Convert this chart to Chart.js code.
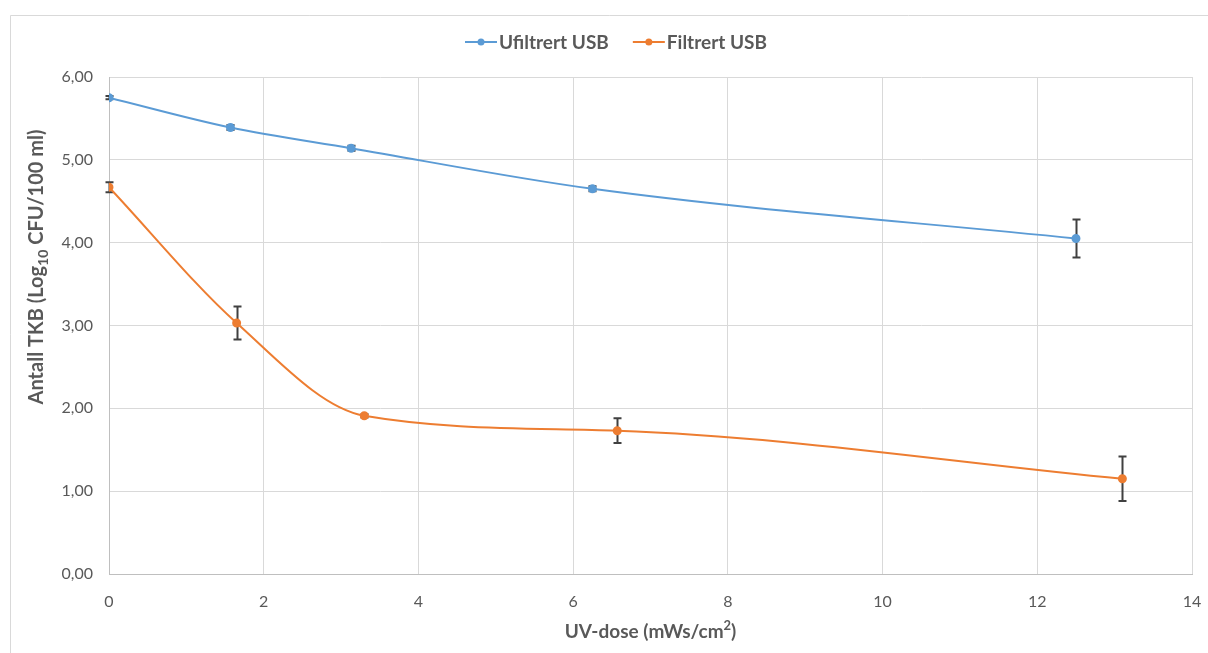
<!DOCTYPE html>
<html>
<head>
<meta charset="utf-8">
<script src="https://cdn.jsdelivr.net/npm/chart.js@4"></script>
<style>
  html, body { margin: 0; padding: 0; background: #ffffff; }
  #wrap { width: 1208px; height: 653px; position: relative; }
</style>
</head>
<body>
<div id="wrap"><canvas id="c" width="1208" height="653"></canvas></div>
<script>
// UV dose (mWs/cm²) for each sample
const doseUnfiltered = [0, 1.57, 3.13, 6.25, 12.5];
const doseFiltered = [0, 1.65, 3.3, 6.57, 13.1];

// log10 CFU/100 ml and the error-bar half-widths
const logUnfiltered = [5.75, 5.39, 5.14, 4.65, 4.05];
const errUnfiltered = [0.02, 0.03, 0.03, 0.03, 0.23];
const logFiltered = [4.67, 3.03, 1.91, 1.73, 1.15];
const errFiltered = [0.06, 0.20, 0.02, 0.15, 0.27];

const seriesNames = ['Ufiltrert USB', 'Filtrert USB'];
const xTitle = ['UV-dose (mWs/cm', '2', ')'];
const yTitle = ['Antall TKB (Log', '10', ' CFU/100 ml)'];

const BLUE = '#5B9BD5';
const ORANGE = '#ED7D31';
const TEXT = '#595959';
const FONT = 'Lato, "Open Sans", sans-serif';

function toPoints(xs, ys) { return xs.map((x, i) => ({ x: x, y: ys[i] })); }

// Frame, legend, axis titles and error bars
const decorations = {
  id: 'decorations',
  beforeDraw(chart) {
    const ctx = chart.ctx;
    ctx.save();
    ctx.fillStyle = '#ffffff';
    ctx.fillRect(0, 0, chart.width, chart.height);
    ctx.strokeStyle = '#d9d9d9';
    ctx.lineWidth = 1;
    ctx.beginPath();
    ctx.moveTo(10.5, chart.height);
    ctx.lineTo(10.5, 15.5);
    ctx.lineTo(chart.width, 15.5);
    ctx.stroke();
    ctx.restore();
  },
  beforeDatasetsDraw(chart) {
    const ctx = chart.ctx;
    const xs = chart.scales.x, ys = chart.scales.y;
    const sets = [[doseUnfiltered, logUnfiltered, errUnfiltered], [doseFiltered, logFiltered, errFiltered]];
    ctx.save();
    ctx.strokeStyle = '#404040';
    ctx.lineWidth = 2;
    sets.forEach(([dx, vy, ev]) => {
      dx.forEach((d, i) => {
        const px = Math.round(xs.getPixelForValue(d)) + 0.5;
        const top = ys.getPixelForValue(vy[i] + ev[i]);
        const bot = ys.getPixelForValue(vy[i] - ev[i]);
        ctx.beginPath();
        ctx.moveTo(px, top); ctx.lineTo(px, bot);
        ctx.moveTo(px - 4, top); ctx.lineTo(px + 4, top);
        ctx.moveTo(px - 4, bot); ctx.lineTo(px + 4, bot);
        ctx.stroke();
      });
    });
    ctx.restore();
  },
  afterDraw(chart) {
    const ctx = chart.ctx;
    const area = chart.chartArea;
    ctx.save();
    ctx.fillStyle = TEXT;
    ctx.textBaseline = 'middle';

    // legend
    ctx.font = 'bold 19px ' + FONT;
    const colors = [BLUE, ORANGE];
    const widths = seriesNames.map(n => ctx.measureText(n).width);
    const sample = 32, gapText = 2, gapItem = 24;
    let x = 465;
    const ly = 42;
    widths.forEach((w, i) => {
      ctx.strokeStyle = colors[i];
      ctx.lineWidth = 2;
      ctx.beginPath(); ctx.moveTo(x, ly); ctx.lineTo(x + sample, ly); ctx.stroke();
      ctx.fillStyle = colors[i];
      ctx.beginPath(); ctx.arc(x + sample / 2, ly, 3.5, 0, Math.PI * 2); ctx.fill();
      ctx.fillStyle = TEXT;
      ctx.textAlign = 'left';
      ctx.fillText(seriesNames[i], x + sample + gapText, ly + 1);
      x += sample + gapText + w + gapItem;
    });

    // x title with superscript
    let big = 'bold 19px ' + FONT, small = 'bold 13px ' + FONT;
    ctx.font = big; const a = ctx.measureText(xTitle[0]).width;
    ctx.font = small; const b = ctx.measureText(xTitle[1]).width;
    ctx.font = big; const c = ctx.measureText(xTitle[2]).width;
    let tx = (area.left + area.right) / 2 - (a + b + c) / 2;
    const ty = 632;
    ctx.textAlign = 'left';
    ctx.font = big; ctx.fillText(xTitle[0], tx, ty);
    ctx.font = small; ctx.fillText(xTitle[1], tx + a, ty - 6);
    ctx.font = big; ctx.fillText(xTitle[2], tx + a + b, ty);

    // y title with subscript, rotated
    big = 'bold 20px ' + FONT; small = 'bold 14px ' + FONT;
    ctx.font = big; const ya = ctx.measureText(yTitle[0]).width;
    ctx.font = small; const yb = ctx.measureText(yTitle[1]).width;
    ctx.font = big; const yc = ctx.measureText(yTitle[2]).width;
    ctx.translate(37, 267);
    ctx.rotate(-Math.PI / 2);
    let sx = -(ya + yb + yc) / 2;
    ctx.font = big; ctx.fillText(yTitle[0], sx, 0);
    ctx.font = small; ctx.fillText(yTitle[1], sx + ya, 6);
    ctx.font = big; ctx.fillText(yTitle[2], sx + ya + yb, 0);
    ctx.restore();
  }
};

new Chart(document.getElementById('c'), {
  type: 'line',
  data: {
    datasets: [
      {
        label: seriesNames[0],
        data: toPoints(doseUnfiltered, logUnfiltered),
        borderColor: BLUE, backgroundColor: BLUE,
        borderWidth: 2, pointRadius: 3.5, pointHoverRadius: 3.5,
        cubicInterpolationMode: 'monotone', fill: false
      },
      {
        label: seriesNames[1],
        data: toPoints(doseFiltered, logFiltered),
        borderColor: ORANGE, backgroundColor: ORANGE,
        borderWidth: 2, pointRadius: 3.5, pointHoverRadius: 3.5,
        cubicInterpolationMode: 'monotone', fill: false
      }
    ]
  },
  options: {
    responsive: false,
    animation: false,
    events: [],
    layout: { padding: { top: 77, right: 0, left: 0, bottom: 0 } },
    plugins: { legend: { display: false }, tooltip: { enabled: false } },
    scales: {
      x: {
        type: 'linear', min: 0, max: 14,
        afterFit(s) { s.height = 79; s.paddingRight = 16; s.paddingLeft = 0; },
        ticks: { stepSize: 2, padding: 18, color: TEXT, font: { family: FONT, size: 16 } },
        grid: { color: '#d9d9d9', lineWidth: 1, drawTicks: false },
        border: { color: '#bfbfbf', width: 1 }
      },
      y: {
        type: 'linear', min: 0, max: 6,
        afterFit(s) { s.width = 109; },
        ticks: {
          stepSize: 1, padding: 16, color: TEXT, font: { family: FONT, size: 16 },
          callback: v => v.toFixed(2).replace('.', ',')
        },
        grid: { color: '#d9d9d9', lineWidth: 1, drawTicks: false },
        border: { color: '#bfbfbf', width: 1 }
      }
    }
  },
  plugins: [decorations]
});
</script>
</body>
</html>
